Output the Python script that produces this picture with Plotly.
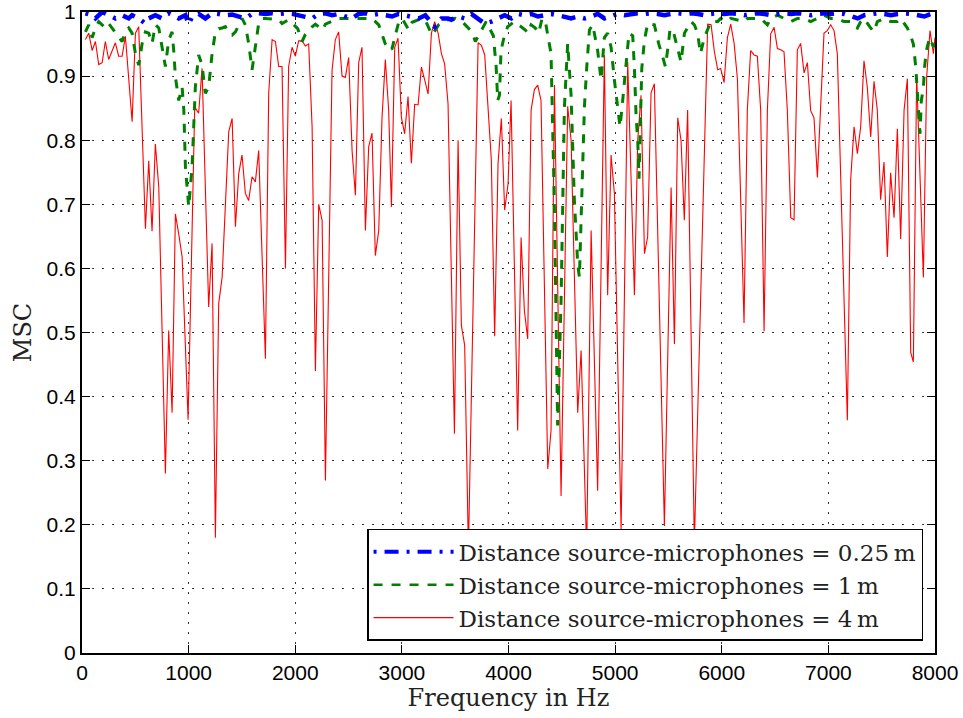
import plotly.graph_objects as go

# ---- Distance 4 m (red, solid) ----
red_hz = [32, 63, 95, 126, 157, 189, 219, 250, 313, 344, 376, 407, 470, 501, 532,
          595, 626, 657, 688, 720, 782, 813, 845, 876, 907, 939, 995, 1057, 1094, 1126,
          1188, 1220, 1251, 1282, 1314, 1376, 1408, 1439, 1470, 1501, 1532, 1563, 1595, 1626, 1657,
          1720, 1751, 1783, 1814, 1845, 1876, 1908, 1938, 1970, 2001, 2032, 2064, 2095, 2126, 2158,
          2189, 2220, 2252, 2283, 2345, 2376, 2407, 2439, 2470, 2501, 2533, 2564, 2595, 2626, 2658,
          2689, 2720, 2751, 2783, 2814, 2845, 2876, 2902, 2933, 2964, 2995, 3026, 3058, 3089, 3120,
          3152, 3183, 3214, 3246, 3277, 3308, 3340, 3371, 3401, 3433, 3493, 3527, 3558, 3589, 3624,
          3715, 3746, 3777, 3839, 3870, 3902, 3933, 3964, 3996, 4024, 4086, 4118, 4149, 4180, 4212,
          4243, 4274, 4305, 4368, 4399, 4431, 4493, 4555, 4587, 4649, 4681, 4733, 4775, 4836, 4899,
          4930, 4962, 4993, 5056, 5118, 5181, 5212, 5243, 5275, 5305, 5337, 5368, 5462, 5525, 5556,
          5587, 5618, 5649, 5680, 5743, 5868, 5900, 5931, 5962, 5990, 6022, 6053, 6084, 6116, 6147,
          6209, 6240, 6271, 6303, 6334, 6365, 6397, 6428, 6459, 6491, 6522, 6553, 6584, 6615, 6647,
          6678, 6709, 6740, 6772, 6803, 6834, 6865, 6897, 6959, 6990, 7022, 7053, 7084, 7178, 7209,
          7241, 7272, 7303, 7334, 7365, 7397, 7428, 7459, 7490, 7522, 7553, 7584, 7616, 7647, 7678,
          7710, 7741, 7772, 7797, 7828, 7891, 7922, 7953, 7985, 8000]
red_msc = [0.957, 0.967, 0.940, 0.954, 0.918, 0.921, 0.954, 0.926, 0.952, 0.931, 0.931, 0.962, 0.829, 0.967, 0.977,
           0.662, 0.768, 0.658, 0.794, 0.727, 0.280, 0.503, 0.375, 0.685, 0.654, 0.618, 0.364, 0.852, 0.842, 0.912,
           0.540, 0.639, 0.180, 0.545, 0.586, 0.813, 0.834, 0.665, 0.748, 0.777, 0.717, 0.706, 0.743, 0.735, 0.784,
           0.459, 0.873, 0.957, 0.954, 0.915, 0.915, 0.600, 0.915, 0.945, 0.931, 0.955, 0.955, 0.947, 0.950, 0.821,
           0.440, 0.700, 0.675, 0.269, 0.909, 0.957, 0.969, 0.900, 0.898, 0.929, 0.784, 0.714, 0.921, 0.945, 0.659,
           0.790, 0.811, 0.620, 0.659, 0.836, 0.926, 0.847, 0.696, 0.945, 0.959, 0.836, 0.810, 0.868, 0.764, 0.856,
           0.855, 0.914, 0.894, 0.872, 0.967, 0.985, 0.967, 0.935, 0.919, 0.857, 0.342, 0.800, 0.511, 0.480, 0.159,
           0.952, 0.948, 0.933, 0.769, 0.494, 0.764, 0.834, 0.691, 0.732, 0.862, 0.347, 0.648, 0.534, 0.490, 0.847,
           0.879, 0.886, 0.862, 0.287, 0.347, 0.886, 0.245, 0.853, 0.800, 0.375, 0.472, 0.159, 0.659, 0.253, 0.933,
           0.558, 0.777, 0.717, 0.192, 0.922, 0.558, 0.800, 0.870, 0.623, 0.649, 0.874, 0.888, 0.198, 0.726, 0.482,
           0.835, 0.800, 0.675, 0.847, 0.170, 0.981, 0.980, 0.938, 0.910, 0.912, 0.890, 0.960, 0.981, 0.951, 0.896,
           0.515, 0.847, 0.940, 0.933, 0.931, 0.847, 0.502, 0.847, 0.966, 0.976, 0.943, 0.941, 0.938, 0.847, 0.679,
           0.676, 0.941, 0.951, 0.905, 0.921, 0.846, 0.835, 0.742, 0.967, 0.971, 0.980, 0.971, 0.935, 0.363, 0.738,
           0.821, 0.779, 0.821, 0.924, 0.883, 0.805, 0.892, 0.847, 0.707, 0.766, 0.618, 0.749, 0.679, 0.818, 0.646,
           0.847, 0.896, 0.469, 0.454, 0.902, 0.586, 0.899, 0.971, 0.935, 0.960]

# ---- Distance 1 m (green, dashed) ----
green_hz = [32, 63, 95, 126, 157, 189, 219, 250, 282, 313, 344, 376, 407, 438, 470,
            501, 532, 564, 595, 626, 657, 688, 720, 751, 782, 813, 845, 860, 876, 907,
            939, 955, 970, 1001, 1032, 1063, 1094, 1126, 1157, 1188, 1220, 1251, 1282, 1314, 1345,
            1376, 1408, 1439, 1470, 1501, 1532, 1563, 1595, 1626, 1657, 1689, 1720, 1845, 1876, 1938,
            2023, 2064, 2095, 2158, 2189, 2257, 2283, 2407, 2648, 2720, 2783, 2814, 2845, 2876, 2908,
            2939, 2970, 3002, 3064, 3096, 3189, 3220, 3283, 3315, 3345, 3408, 3502, 3565, 3658, 3689,
            3752, 3790, 3858, 3884, 3899, 3915, 3930, 3961, 3992, 4055, 4158, 4180, 4212, 4252, 4283,
            4315, 4346, 4377, 4399, 4430, 4461, 4493, 4524, 4555, 4587, 4618, 4649, 4665, 4681, 4712,
            4733, 4759, 4790, 4836, 4868, 4899, 4930, 4962, 4993, 5024, 5046, 5071, 5100, 5130, 5165,
            5181, 5197, 5212, 5224, 5237, 5250, 5275, 5305, 5368, 5408, 5446, 5471, 5500, 5515, 5550,
            5587, 5618, 5650, 5712, 5743, 5774, 5800, 5837, 5900, 5962, 5990, 6053, 6084, 6147, 6209,
            6240, 6303, 6365, 6397, 6428, 6459, 6522, 6584, 6647, 6709, 6772, 6834, 6897, 6959, 7022,
            7084, 7147, 7209, 7241, 7272, 7303, 7334, 7397, 7428, 7459, 7522, 7584, 7647, 7678, 7741,
            7772, 7797, 7819, 7834, 7849, 7859, 7872, 7890, 7903, 7919, 7950, 7985, 8000]
green_msc = [0.969, 0.980, 0.960, 0.975, 0.985, 0.980, 0.975, 0.982, 0.975, 0.967, 0.960, 0.954, 0.969, 0.975, 0.967,
             0.935, 0.917, 0.951, 0.969, 0.967, 0.951, 0.980, 0.975, 0.946, 0.915, 0.956, 0.969, 0.940, 0.899, 0.862,
             0.883, 0.847, 0.758, 0.696, 0.758, 0.883, 0.933, 0.917, 0.873, 0.883, 0.935, 0.969, 0.974, 0.975, 0.977,
             0.967, 0.964, 0.969, 0.980, 0.990, 0.980, 0.951, 0.910, 0.946, 0.982, 0.990, 0.990, 0.988, 0.982, 0.988,
             0.974, 0.954, 0.965, 0.977, 0.981, 0.972, 0.981, 0.990, 0.990, 0.990, 0.980, 0.964, 0.950, 0.940, 0.943,
             0.964, 0.984, 0.990, 0.972, 0.984, 0.990, 0.987, 0.964, 0.972, 0.980, 0.987, 0.990, 0.985, 0.969, 0.954,
             0.972, 0.985, 0.963, 0.915, 0.862, 0.870, 0.940, 0.963, 0.977, 0.985, 0.972, 0.967, 0.980, 0.975, 0.967,
             0.990, 0.985, 0.959, 0.935, 0.700, 0.355, 0.550, 0.850, 0.951, 0.870, 0.706, 0.607, 0.586, 0.680, 0.852,
             0.912, 0.972, 0.980, 0.940, 0.894, 0.960, 0.967, 0.945, 0.894, 0.847, 0.821, 0.862, 0.920, 0.967, 0.963,
             0.912, 0.836, 0.800, 0.740, 0.831, 0.912, 0.956, 0.982, 0.980, 0.951, 0.930, 0.915, 0.950, 0.974, 0.967,
             0.940, 0.922, 0.967, 0.985, 0.980, 0.967, 0.935, 0.960, 0.986, 0.985, 0.990, 0.985, 0.990, 0.988, 0.985,
             0.990, 0.990, 0.990, 0.985, 0.980, 0.990, 0.995, 0.990, 0.985, 0.990, 0.990, 0.985, 0.990, 0.995, 0.990,
             0.990, 0.985, 0.985, 0.977, 0.975, 0.985, 0.990, 0.975, 0.969, 0.985, 0.990, 0.985, 0.985, 0.990, 0.975,
             0.963, 0.950, 0.915, 0.873, 0.836, 0.810, 0.862, 0.880, 0.915, 0.940, 0.960, 0.946, 0.950]

# ---- Distance 0.25 m (blue, dash-dot) ----
blue_hz = [32, 95, 126, 189, 250, 313, 376, 438, 470, 532, 595, 626, 688, 751, 813,
           876, 907, 970, 1001, 1032, 1094, 1157, 1220, 1282, 1345, 1408, 1470, 1532, 1595, 1657,
           1720, 1783, 1845, 1908, 1970, 2032, 2095, 2158, 2220, 2283, 2345, 2407, 2470, 2533, 2595,
           2658, 2720, 2783, 2845, 2908, 2970, 3033, 3096, 3158, 3220, 3277, 3308, 3340, 3371, 3433,
           3464, 3527, 3589, 3652, 3715, 3777, 3839, 3902, 3964, 4027, 4090, 4150, 4212, 4275, 4337,
           4400, 4462, 4525, 4587, 4650, 4712, 4775, 4837, 4900, 4962, 5025, 5087, 5150, 5212, 5275,
           5337, 5400, 5462, 5525, 5587, 5650, 5712, 5775, 5837, 5900, 5962, 6025, 6087, 6150, 6212,
           6275, 6337, 6400, 6462, 6525, 6587, 6650, 6712, 6775, 6837, 6900, 6962, 7025, 7087, 7150,
           7212, 7275, 7337, 7400, 7462, 7525, 7587, 7650, 7712, 7775, 7837, 7900, 7962, 8000]
blue_msc = [0.998, 0.995, 0.990, 1.000, 0.995, 0.990, 0.995, 0.990, 0.995, 0.990, 0.982, 0.990, 0.995, 0.990, 0.998,
            0.993, 0.990, 0.995, 0.981, 0.992, 0.997, 0.990, 0.998, 0.997, 0.995, 0.996, 0.993, 0.990, 0.997, 0.998,
            0.997, 0.998, 0.997, 0.998, 0.997, 0.995, 0.993, 0.990, 0.997, 0.998, 0.995, 0.997, 0.993, 0.990, 0.997,
            0.998, 0.995, 0.997, 0.995, 0.993, 0.997, 0.995, 0.993, 0.990, 0.995, 0.985, 0.977, 0.984, 0.990, 0.990,
            0.988, 0.993, 0.990, 0.997, 0.990, 0.982, 0.985, 0.990, 0.995, 0.990, 0.997, 0.995, 0.997, 0.993, 0.995,
            0.997, 0.995, 0.993, 0.990, 0.993, 0.990, 0.993, 0.997, 0.990, 0.993, 0.997, 0.995, 0.997, 0.998, 0.997,
            0.998, 0.997, 0.995, 0.997, 0.998, 0.997, 0.998, 0.997, 0.995, 0.997, 0.998, 0.997, 0.998, 0.997, 0.995,
            0.997, 0.998, 0.997, 0.995, 0.997, 0.998, 0.997, 0.998, 0.997, 0.995, 0.997, 0.998, 0.997, 0.998, 0.997,
            0.993, 0.990, 0.995, 0.997, 0.998, 0.997, 0.995, 0.997, 0.998, 0.997, 0.995, 0.993, 0.997, 0.998]

x_ticks = [0, 1000, 2000, 3000, 4000, 5000, 6000, 7000, 8000]
y_ticks = [0, 0.1, 0.2, 0.3, 0.4, 0.5, 0.6, 0.7, 0.8, 0.9, 1]
y_tick_labels = ["0", "0.1", "0.2", "0.3", "0.4", "0.5", "0.6", "0.7", "0.8", "0.9", "1"]

legend_names = ["Distance source-microphones = 0.25\u2009m",
                "Distance source-microphones = 1\u2009m",
                "Distance source-microphones = 4\u2009m"]

SERIF = "DejaVu Serif, serif"

fig = go.Figure()
fig.add_trace(go.Scatter(x=red_hz, y=red_msc, mode="lines", name=legend_names[2],
                         line=dict(color="#ff0000", width=1.1), showlegend=False))
fig.add_trace(go.Scatter(x=green_hz, y=green_msc, mode="lines", name=legend_names[1],
                         line=dict(color="#008000", width=3, dash="9px,9px"), showlegend=False))
fig.add_trace(go.Scatter(x=blue_hz, y=blue_msc, mode="lines", name=legend_names[0],
                         line=dict(color="#0000ff", width=4.5, dash="3px,8px,14px,8px"), showlegend=False))
# legend entries (same style) in the reference order
fig.add_trace(go.Scatter(x=[None], y=[None], mode="lines", name=legend_names[0],
                         line=dict(color="#0000ff", width=4, dash="3px,8px,14px,8px")))
fig.add_trace(go.Scatter(x=[None], y=[None], mode="lines", name=legend_names[1],
                         line=dict(color="#008000", width=2.5, dash="9px,9px")))
fig.add_trace(go.Scatter(x=[None], y=[None], mode="lines", name=legend_names[2],
                         line=dict(color="#ff0000", width=1.2)))

axis_common = dict(showline=True, linecolor="black", linewidth=2, mirror="ticks",
                   ticks="inside", ticklen=8, tickcolor="black", tickwidth=1,
                   showgrid=True, gridcolor="#333333", gridwidth=1, griddash="2px,8px",
                   zeroline=False, automargin=False,
                   tickfont=dict(family="Liberation Sans, Arial, sans-serif", size=21, color="black"))

fig.update_xaxes(range=[0, 8000], tickvals=x_ticks, ticktext=[str(v) for v in x_ticks],
                 title=dict(text="Frequency in Hz", standoff=4,
                            font=dict(family=SERIF, size=24, color="#222")),
                 **axis_common)
fig.update_yaxes(range=[0, 1], tickvals=y_ticks, ticktext=y_tick_labels,
                 title=dict(text="MSC", standoff=8,
                            font=dict(family=SERIF, size=24, color="#222")),
                 **axis_common)

fig.update_layout(
    width=963, height=718,
    margin=dict(l=82, r=28, t=12, b=65),
    plot_bgcolor="white", paper_bgcolor="white",
    legend=dict(x=0.986, y=0.019, xanchor="right", yanchor="bottom",
                bgcolor="white", bordercolor="black", borderwidth=1.5,
                font=dict(family=SERIF, size=23, color="#222"),
                itemwidth=80, tracegroupgap=0),
)

fig.write_html("out.html")
